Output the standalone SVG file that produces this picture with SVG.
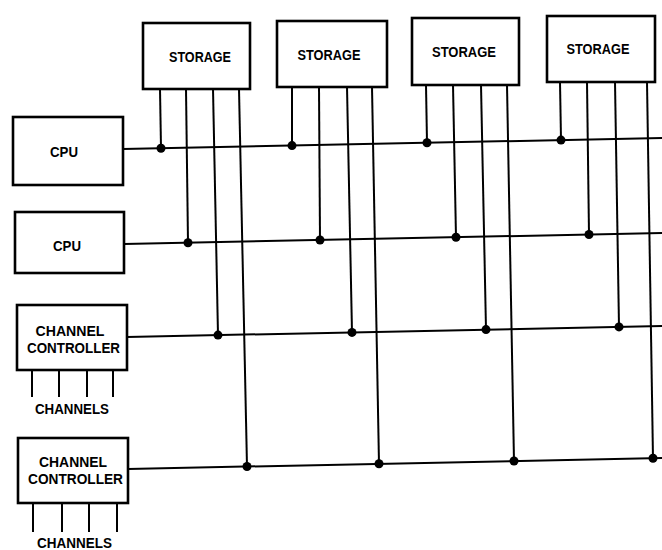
<svg xmlns="http://www.w3.org/2000/svg" width="662" height="550" viewBox="0 0 662 550">
<style>
.box{fill:#fff;stroke:#000;stroke-width:2.6}
.ln{stroke:#000;stroke-width:2;fill:none}
.dot{fill:#000}
text{font-family:"Liberation Sans",Arial,sans-serif;font-weight:bold;font-size:14px;fill:#000;text-anchor:middle}
</style>
<rect width="662" height="550" fill="#fff"/>
<g id="connectors">
<line class="ln" x1="123" y1="149" x2="662" y2="138"/>
<line class="ln" x1="124" y1="244" x2="662" y2="233"/>
<line class="ln" x1="127" y1="337" x2="662" y2="326"/>
<line class="ln" x1="128" y1="469" x2="662" y2="458"/>
<line class="ln" x1="160" y1="89" x2="161" y2="148.2"/>
<line class="ln" x1="186" y1="89" x2="188" y2="242.7"/>
<line class="ln" x1="213" y1="89" x2="218" y2="335.1"/>
<line class="ln" x1="239" y1="89" x2="247" y2="466.5"/>
<line class="ln" x1="292" y1="87" x2="292" y2="145.6"/>
<line class="ln" x1="319" y1="87" x2="320" y2="240"/>
<line class="ln" x1="347" y1="87" x2="352" y2="332.4"/>
<line class="ln" x1="372" y1="87" x2="379" y2="463.8"/>
<line class="ln" x1="426" y1="85" x2="427" y2="142.8"/>
<line class="ln" x1="453" y1="85" x2="456" y2="237.2"/>
<line class="ln" x1="481" y1="85" x2="486" y2="329.6"/>
<line class="ln" x1="507" y1="85" x2="514" y2="461"/>
<line class="ln" x1="560" y1="82" x2="561" y2="140.1"/>
<line class="ln" x1="587" y1="82" x2="589" y2="234.5"/>
<line class="ln" x1="615" y1="82" x2="619" y2="326.9"/>
<line class="ln" x1="647" y1="82" x2="653" y2="458.2"/>
<circle class="dot" cx="161" cy="148.2" r="4.5"/>
<circle class="dot" cx="292" cy="145.6" r="4.5"/>
<circle class="dot" cx="427" cy="142.8" r="4.5"/>
<circle class="dot" cx="561" cy="140.1" r="4.5"/>
<circle class="dot" cx="188" cy="242.7" r="4.5"/>
<circle class="dot" cx="320" cy="240" r="4.5"/>
<circle class="dot" cx="456" cy="237.2" r="4.5"/>
<circle class="dot" cx="589" cy="234.5" r="4.5"/>
<circle class="dot" cx="218" cy="335.1" r="4.5"/>
<circle class="dot" cx="352" cy="332.4" r="4.5"/>
<circle class="dot" cx="486" cy="329.6" r="4.5"/>
<circle class="dot" cx="619" cy="326.9" r="4.5"/>
<circle class="dot" cx="247" cy="466.5" r="4.5"/>
<circle class="dot" cx="379" cy="463.8" r="4.5"/>
<circle class="dot" cx="514" cy="461" r="4.5"/>
<circle class="dot" cx="653" cy="458.2" r="4.5"/>
</g>
<g id="storage1"><rect class="box" x="143" y="23" width="107" height="66"/><text x="200" y="62" textLength="62" lengthAdjust="spacingAndGlyphs">STORAGE</text></g>
<g id="storage2"><rect class="box" x="277" y="21" width="110" height="66"/><text x="329" y="60" textLength="63" lengthAdjust="spacingAndGlyphs">STORAGE</text></g>
<g id="storage3"><rect class="box" x="412" y="18" width="107" height="67"/><text x="464" y="57" textLength="64" lengthAdjust="spacingAndGlyphs">STORAGE</text></g>
<g id="storage4"><rect class="box" x="547" y="16" width="108" height="66"/><text x="598" y="54" textLength="63" lengthAdjust="spacingAndGlyphs">STORAGE</text></g>
<g id="cpu1"><rect class="box" x="13" y="117" width="110" height="68"/><text x="64" y="157" textLength="28" lengthAdjust="spacingAndGlyphs">CPU</text></g>
<g id="cpu2"><rect class="box" x="15" y="212" width="109" height="61"/><text x="67" y="251" textLength="28" lengthAdjust="spacingAndGlyphs">CPU</text></g>
<g id="cc1">
<rect class="box" x="17" y="305" width="110" height="65"/>
<text x="70" y="336" textLength="69" lengthAdjust="spacingAndGlyphs">CHANNEL</text>
<text x="73.5" y="353" textLength="93" lengthAdjust="spacingAndGlyphs">CONTROLLER</text>
<line class="ln" x1="32" y1="370" x2="32" y2="397"/>
<line class="ln" x1="59" y1="370" x2="59" y2="397"/>
<line class="ln" x1="87" y1="370" x2="87" y2="397"/>
<line class="ln" x1="113" y1="370" x2="113" y2="397"/>
<text x="72" y="414" textLength="74" lengthAdjust="spacingAndGlyphs">CHANNELS</text>
</g>
<g id="cc2">
<rect class="box" x="18" y="438" width="110" height="65"/>
<text x="73" y="467" textLength="68" lengthAdjust="spacingAndGlyphs">CHANNEL</text>
<text x="75.5" y="484" textLength="95" lengthAdjust="spacingAndGlyphs">CONTROLLER</text>
<line class="ln" x1="33" y1="503" x2="33" y2="532"/>
<line class="ln" x1="62" y1="503" x2="62" y2="532"/>
<line class="ln" x1="89" y1="503" x2="89" y2="532"/>
<line class="ln" x1="117" y1="503" x2="117" y2="532"/>
<text x="74.5" y="548" textLength="75" lengthAdjust="spacingAndGlyphs">CHANNELS</text>
</g>
</svg>
